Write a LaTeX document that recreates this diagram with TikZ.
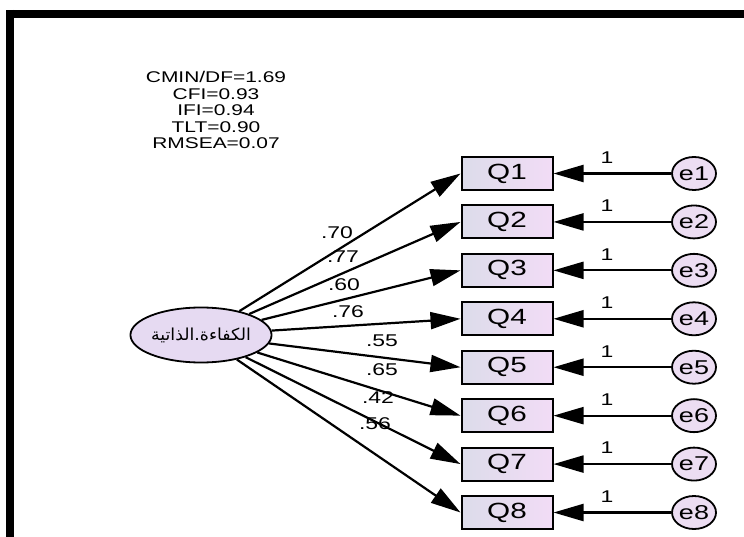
\documentclass[tikz,border=0pt]{standalone}
\usepackage{fontspec}
\setmainfont{Liberation Sans}
\newfontfamily\amosfont[FakeStretch=1.35]{Liberation Sans}
\newfontfamily\arabicfont[Script=Arabic,FakeStretch=1.05]{DejaVu Sans}
\TeXXeTstate=1
\usetikzlibrary{arrows.meta,positioning,shapes.geometric}
\definecolor{latbg}{HTML}{E6DAF2}
\definecolor{obsl}{HTML}{DCDCEA}
\definecolor{obsr}{HTML}{F2DCF6}
\definecolor{errbg}{HTML}{ECDDF2}
\tikzset{
  latent/.style={ellipse,draw,line width=1.8pt,fill=latbg,inner sep=0pt,
    minimum width=127pt,minimum height=55pt,
    font=\arabicfont\fontsize{16.5}{19}\selectfont},
  obs/.style={rectangle,draw,line width=2pt,left color=obsl,right color=obsr,
    inner sep=0pt,minimum width=91pt,minimum height=33pt,
    font=\amosfont\fontsize{22}{24}\selectfont},
  err/.style={ellipse,draw,line width=1.8pt,fill=errbg,inner sep=0pt,
    minimum width=44pt,minimum height=33pt,
    font=\amosfont\fontsize{20}{22}\selectfont},
  path/.style={-{Triangle[length=30pt,width=17pt]},line width=2.2pt},
  wlabel/.style={font=\amosfont\fontsize{17}{19}\selectfont,inner sep=0pt},
  fitbox/.style={align=center,inner sep=0pt,
    font=\amosfont\fontsize{15.5}{16.5}\selectfont},
  frame/.style={line width=8pt},
}

\begin{document}
\begin{tikzpicture}[x=1pt,y=-1pt]
  \useasboundingbox (0,0) rectangle (744,537);
  % --- frame ---
  \draw[frame] (6,14) -- (744,14);
  \draw[frame] (10,10) -- (10,537);
  % --- fit indices ---
  \node[fitbox] (fit) at (216,110) {CMIN/DF=1.69\\CFI=0.93\\IFI=0.94\\TLT=0.90\\RMSEA=0.07};
  % --- latent factor ---
  \node[latent] (E) at (201,335) {\beginR الذاتية\endR.\beginR الكفاءة\endR};
  % --- items, errors, loadings ---
  \foreach \i/\w/\lx/\ly in {1/.70/337/233, 2/.77/343/257, 3/.60/344/285, 4/.76/348/312,
                             5/.55/382/341, 6/.65/382/370, 7/.42/378/398, 8/.56/375/424} {
    \node[obs] (Q\i) at (507,{173.5+48.43*(\i-1)}) {Q\i};
    \node[err] (e\i) at (694,{173.5+48.43*(\i-1)}) {e\i};
    \draw[path] (E) -- (Q\i.west);
    \draw[path] (e\i) -- (Q\i);
    \node[wlabel] (w\i) at (\lx,\ly) {\w};
    \node[wlabel] (one\i) at (607,{157.5+48.43*(\i-1)}) {1};
  }
\end{tikzpicture}
\end{document}
